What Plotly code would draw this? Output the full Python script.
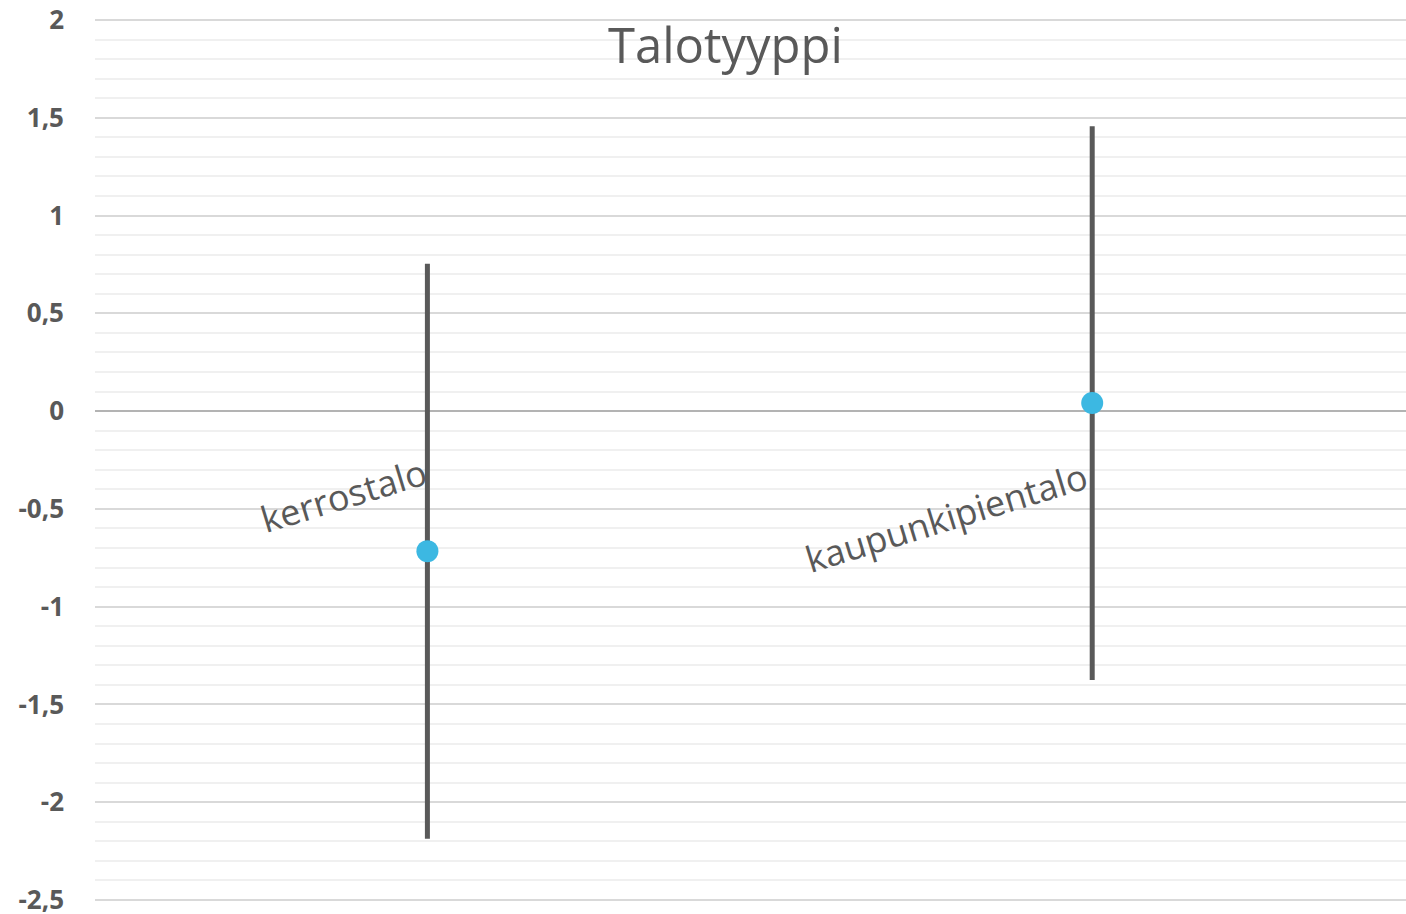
import plotly.graph_objects as go

categories = ["kerrostalo", "kaupunkipientalo"]
means = [-0.716, 0.041]
errors = [1.47, 1.416]
tick_vals = [2, 1.5, 1, 0.5, 0, -0.5, -1, -1.5, -2, -2.5]
tick_text = ["2", "1,5", "1", "0,5", "0", "-0,5", "-1", "-1,5", "-2", "-2,5"]
title_text = "Talotyyppi"
label_shifts = [(-84, 56), (-146, -114)]

fig = go.Figure()
fig.add_trace(go.Scatter(
    x=[0, 1], y=means, mode="markers",
    marker=dict(size=22, color="#3cb8e2"),
    error_y=dict(type="data", array=errors, visible=True, color="#595959",
                 thickness=5, width=0),
    showlegend=False,
))

for i, (cat, m) in enumerate(zip(categories, means)):
    dx, dy = label_shifts[i]
    fig.add_annotation(x=i, y=m, text=cat, showarrow=False, textangle=-17,
                       xshift=dx, yshift=dy,
                       font=dict(family="Open Sans", size=36, color="#595959"))

fig.add_annotation(xref="paper", yref="paper", x=(725 - 95) / 1311, y=1.0,
                   yanchor="top", yshift=9, text=title_text, showarrow=False,
                   font=dict(family="Open Sans", size=49, color="#595959"))

fig.update_layout(
    width=1406, height=914,
    margin=dict(l=95, r=0, t=18, b=12),
    plot_bgcolor="white", paper_bgcolor="white",
    separators=", ",
    xaxis=dict(range=[-0.5, 1.472], showgrid=False, zeroline=False,
               showticklabels=False, showline=False, fixedrange=True,
               automargin=False),
    yaxis=dict(range=[-2.51, 2.01], tickvals=tick_vals, ticktext=tick_text,
               showgrid=True, gridcolor="#d9d9d9", gridwidth=2,
               zeroline=True, zerolinecolor="#b3b3b3", zerolinewidth=2,
               minor=dict(dtick=0.1, tick0=0, showgrid=True,
                          gridcolor="#f0f0f0", gridwidth=2),
               tickfont=dict(family="Open Sans", size=26, color="#595959",
                             weight="bold"),
               ticklabelstandoff=30, ticks="", showline=False,
               ticklabeloverflow="allow", automargin=False),
)

fig.write_html("out.html", config={"displayModeBar": False},
               post_script="document.body.style.margin='0';")
